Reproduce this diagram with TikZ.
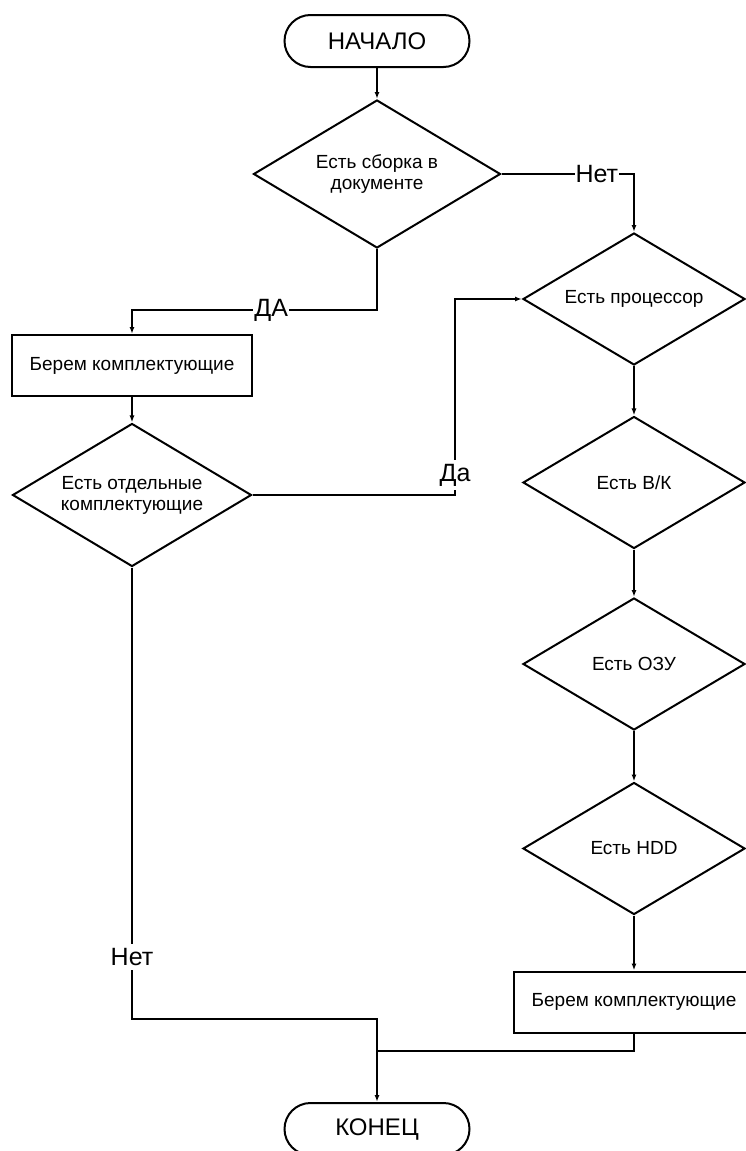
\documentclass[tikz,border=0pt]{standalone}
\usepackage{fontspec}
\setmainfont{Liberation Sans}
\usetikzlibrary{arrows.meta, shapes.geometric}

\begin{document}
\begin{tikzpicture}[x=1pt, y=-1pt, >={Latex[length=7pt,width=5pt]}, line join=miter]
	
	\def\xl{132}
	\def\xm{377}
	\def\xr{634}
	
	\tikzset{
		term/.style={draw, line width=2pt, rectangle, rounded corners=26pt, minimum width=185pt, minimum height=52pt, font=\fontsize{24}{28}\selectfont},
		cond/.style={draw, line width=2pt, diamond, inner sep=0pt, shape aspect=1.68, align=center, font=\fontsize{19}{21}\selectfont},
		proc/.style={draw, line width=2pt, rectangle, minimum width=240pt, minimum height=61pt, font=\fontsize{19}{23}\selectfont},
		link/.style={line width=2pt},
		lbl/.style={fill=white, inner xsep=1pt, inner ysep=4pt, font=\fontsize{25}{30}\selectfont}
	}
	
	\useasboundingbox (0,0) rectangle (745,1151);
	
	% left column
	\node[term] (start) at (\xm,41) {НАЧАЛО};
	\node[cond, minimum width=247pt, minimum height=148pt] (d1) at (\xm,174) {Есть сборка в\\документе};
	\node[proc] (box1) at (\xl,365.5) {Берем комплектующие};
	\node[cond, minimum width=239pt, minimum height=143pt] (dL) at (\xl,495) {Есть отдельные\\комплектующие};
	\node[term] (stop) at (\xm,1129) {КОНЕЦ};
	
	% right column
	\node[cond, minimum width=222pt, minimum height=132pt] (d2) at (\xr,299) {Есть процессор};
	\node[cond, minimum width=222pt, minimum height=132pt] (d3) at (\xr,482.5) {Есть В/К};
	\node[cond, minimum width=222pt, minimum height=132pt] (d4) at (\xr,664) {Есть ОЗУ};
	\node[cond, minimum width=222pt, minimum height=132pt] (d5) at (\xr,848.5) {Есть HDD};
	\node[proc] (box2) at (\xr,1002) {Берем комплектующие};
	
	\coordinate (jDa)  at (\xm,310);
	\coordinate (jUp)  at (455,299);
	\coordinate (jNo)  at (\xl,1019);
	\coordinate (jEnd) at (\xm,1051);
	
	\draw[link,->] (start) -- (d1);
	\draw[link,->] (d1.east) -| (d2.north) node[lbl, pos=0.36] {Нет};
	\draw[link,->] (d1.south) -- (jDa) -| (box1.north) node[lbl, pos=0.216] {ДА};
	\draw[link,->] (box1) -- (dL);
	\draw[link,->] (dL.east) -| (jUp) node[lbl, pos=0.551] {Да} -- (d2.west);
	
	\draw[link,->] (d2) -- (d3);
	\draw[link,->] (d3) -- (d4);
	\draw[link,->] (d4) -- (d5);
	\draw[link,->] (d5) -- (box2);
	
	\draw[link,->] (dL.south) -- node[lbl, pos=0.863] {Нет} (jNo) -| (stop.north);
	\draw[link] (box2.south) |- (jEnd);
	
\end{tikzpicture}
\end{document}
